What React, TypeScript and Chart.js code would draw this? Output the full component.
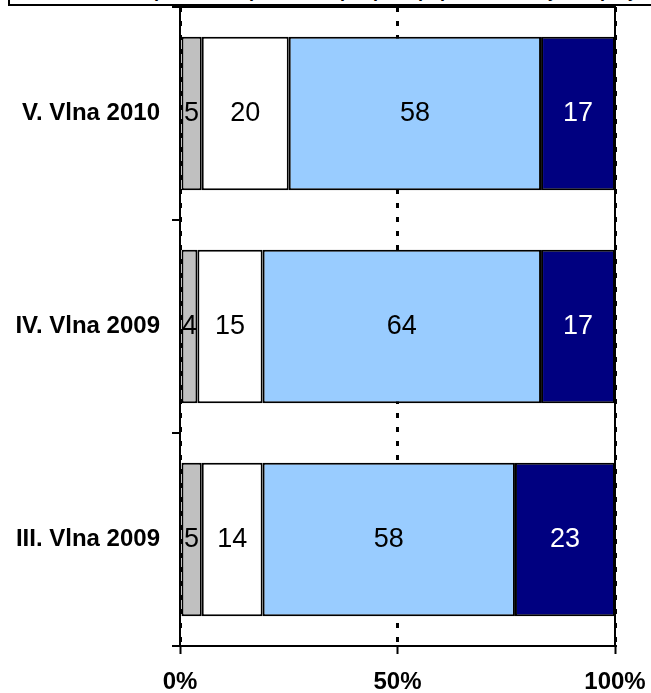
import React, { useEffect, useRef } from "react";
import { Chart, registerables } from "chart.js";

Chart.register(...registerables);

const categories = ["V. Vlna 2010", "IV. Vlna 2009", "III. Vlna 2009"];
const seriesNames = ["Nevie", "Nie", "Skôr áno", "Áno"];
const seriesNevie = [5, 4, 5];
const seriesNie = [20, 15, 14];
const seriesSkorAno = [58, 64, 58];
const seriesAno = [17, 17, 23];
const seriesColors = ["#C0C0C0", "#FFFFFF", "#99CCFF", "#000080"];
const labelColors = ["#000000", "#000000", "#000000", "#FFFFFF"];
const xTicks = [0, 50, 100];
const titleText = "Hodnotenie pomoci a opatrení na podporu populácie v krajine a projekty";

const FONT = "'Liberation Sans', Arial, sans-serif";

const frameAndLabels = {
  id: "frameAndLabels",
  afterDatasetsDraw(chart: any) {
    const ctx = chart.ctx;
    const a = chart.chartArea;
    ctx.save();
    ctx.strokeStyle = "#000";
    ctx.lineWidth = 2;
    ctx.strokeRect(a.left, a.top, a.right - a.left, a.bottom - a.top);
    ctx.font = `27px ${FONT}`;
    ctx.textAlign = "center";
    ctx.textBaseline = "middle";
    chart.data.datasets.forEach((ds: any, di: number) => {
      const meta = chart.getDatasetMeta(di);
      meta.data.forEach((el: any, i: number) => {
        const v = ds.data[i];
        const x = (el.x + el.base) / 2;
        ctx.fillStyle = labelColors[di];
        ctx.fillText(String(v), x, el.y);
      });
    });
    ctx.restore();
  },
};

export default function App() {
  const ref = useRef<HTMLCanvasElement | null>(null);
  useEffect(() => {
    if (!ref.current) return;
    const all = [seriesNevie, seriesNie, seriesSkorAno, seriesAno];
    const chart = new Chart(ref.current, {
      type: "bar",
      data: {
        labels: categories,
        datasets: all.map((d, i) => ({
          label: seriesNames[i],
          data: d,
          backgroundColor: seriesColors[i],
          borderColor: "#000",
          borderWidth: 2,
          borderSkipped: false,
          barPercentage: 0.72,
          categoryPercentage: 1,
        })),
      },
      options: {
        indexAxis: "y",
        animation: false,
        responsive: false,
        maintainAspectRatio: false,
        layout: { padding: { left: 0, right: 36, top: 7, bottom: 0 } },
        plugins: { legend: { display: false }, tooltip: { enabled: false }, title: { display: false } },
        scales: {
          x: {
            stacked: true,
            min: 0,
            max: 100,
            afterBuildTicks: (s: any) => {
              s.ticks = xTicks.map((v) => ({ value: v }));
            },
            afterFit: (s: any) => {
              s.height = 47;
              s.paddingLeft = 0;
              s.paddingRight = 0;
            },
            ticks: {
              callback: (v: any) => v + "%",
              color: "#000",
              font: { family: FONT, size: 24, weight: "bold" },
              padding: 14,
              maxRotation: 0,
            },
            grid: {
              display: true,
              drawOnChartArea: true,
              color: "#000",
              lineWidth: 3,
              tickLength: 8,
              tickWidth: 2,
              tickColor: "#000",
              tickBorderDash: [],
            },
            border: { display: true, color: "#000", width: 2, dash: [5, 9] },
          },
          y: {
            stacked: true,
            afterFit: (s: any) => {
              s.width = 180;
              s.paddingTop = 0;
              s.paddingBottom = 0;
            },
            ticks: {
              color: "#000",
              font: { family: FONT, size: 24, weight: "bold" },
              padding: 12,
            },
            grid: {
              display: true,
              drawOnChartArea: false,
              offset: true,
              color: "#000",
              lineWidth: 2,
              tickLength: 8,
            },
            border: { display: true, color: "#000", width: 2 },
          },
        },
      },
      plugins: [frameAndLabels],
    } as any);
    return () => chart.destroy();
  }, []);
  return (
    <div style={{ position: "absolute", left: 0, top: 0, width: 651, height: 693, background: "#fff" }}>
      <canvas ref={ref} width={651} height={693} style={{ position: "absolute", left: 0, top: 0 }} />
      <div
        style={{
          position: "absolute",
          left: 8,
          top: 0,
          width: 643,
          height: 4,
          borderLeft: "2px solid #000",
          borderBottom: "2px solid #000",
          overflow: "hidden",
          background: "#fff",
        }}
      >
        <div
          style={{
            position: "absolute",
            left: 40,
            top: -18,
            whiteSpace: "nowrap",
            font: `bold 18px ${FONT}`,
            lineHeight: "18px",
            color: "#000",
          }}
        >
          {titleText}
        </div>
      </div>
    </div>
  );
}
